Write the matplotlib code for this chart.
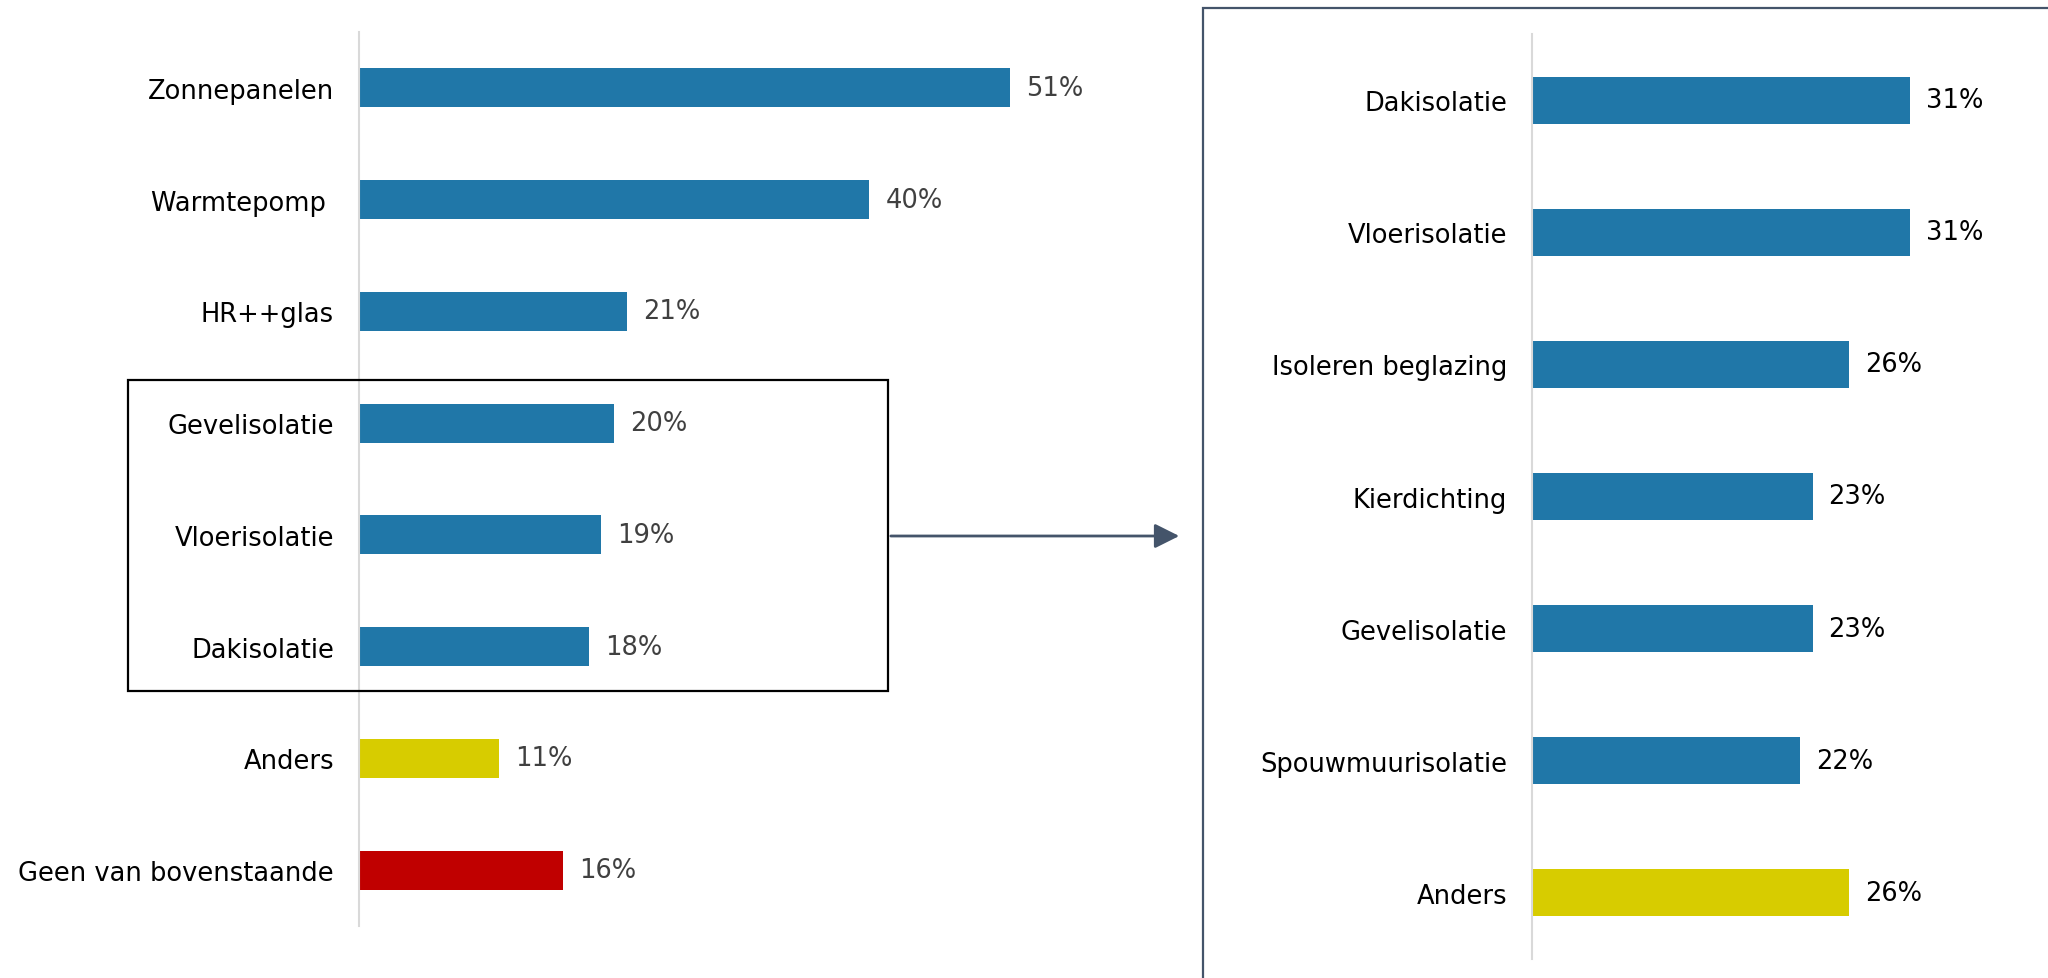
import matplotlib.pyplot as plt
from matplotlib.patches import Rectangle, FancyArrowPatch

# data
left_cats = ["Zonnepanelen", "Warmtepomp ", "HR++glas", "Gevelisolatie",
             "Vloerisolatie", "Dakisolatie", "Anders", "Geen van bovenstaande"]
left_vals = [51, 40, 21, 20, 19, 18, 11, 16]
left_cols = ["#2077A8"] * 6 + ["#D7CC00", "#C00000"]

right_cats = ["Dakisolatie", "Vloerisolatie", "Isoleren beglazing", "Kierdichting",
              "Gevelisolatie", "Spouwmuurisolatie", "Anders"]
right_vals = [31, 31, 26, 23, 23, 22, 26]
right_cols = ["#2077A8"] * 6 + ["#D7CC00"]

W, H = 2048, 979
plt.rcParams['font.family'] = ['DejaVu Sans']
fig = plt.figure(figsize=(W / 100, H / 100), dpi=100)


def box(x0, y0, x1, y1):
    # pixel box (top-left origin) -> figure fraction rect
    return [x0 / W, 1 - y1 / H, (x1 - x0) / W, (y1 - y0) / H]


def bar_panel(rect, cats, vals, cols, pxper, hgt, lblcol):
    ax = fig.add_axes(rect)
    n = len(cats)
    ax.barh(range(n), vals, height=hgt, color=cols)
    ax.set_xlim(0, rect[2] * W / pxper)
    ax.set_ylim(n - 0.5, -0.5)
    ax.set_yticks(range(n))
    ax.set_yticklabels(cats, fontsize=18.5, color="black")
    ax.tick_params(axis="y", length=0, pad=18)
    ax.set_xticks([])
    for s in ["top", "right", "bottom"]:
        ax.spines[s].set_visible(False)
    ax.spines["left"].set_color("#D9D9D9")
    ax.spines["left"].set_linewidth(1.5)
    for i, v in enumerate(vals):
        ax.annotate(f"{v}%", (v, i), xytext=(11.5, 0), textcoords="offset points",
                    va="center", ha="left", fontsize=18.5, color=lblcol)
    return ax


bar_panel(box(359, 33, 1100, 927), left_cats, left_vals, left_cols, 12.76, 0.35, "#404040")
bar_panel(box(1532, 35, 2010, 960), right_cats, right_vals, right_cols, 12.2, 0.355, "black")

# box around the isolation items
fig.patches.append(Rectangle((128 / W, 1 - 692 / H), 760 / W, 311 / H, transform=fig.transFigure,
                             fill=False, edgecolor="black", linewidth=1.6))

# right panel frame
fig.patches.append(Rectangle((1203 / W, -0.05), 0.5, 1 - 9 / H + 0.05, transform=fig.transFigure,
                             fill=False, edgecolor="#44546A", linewidth=1.6))

# arrow
arr = FancyArrowPatch((888 / W, 1 - 537 / H), (1182 / W, 1 - 537 / H), transform=fig.transFigure,
                      arrowstyle="-|>,head_length=10,head_width=5", color="#44546A",
                      linewidth=2, mutation_scale=1.5)
fig.patches.append(arr)

fig.savefig("out.png", dpi=100, facecolor="white")
